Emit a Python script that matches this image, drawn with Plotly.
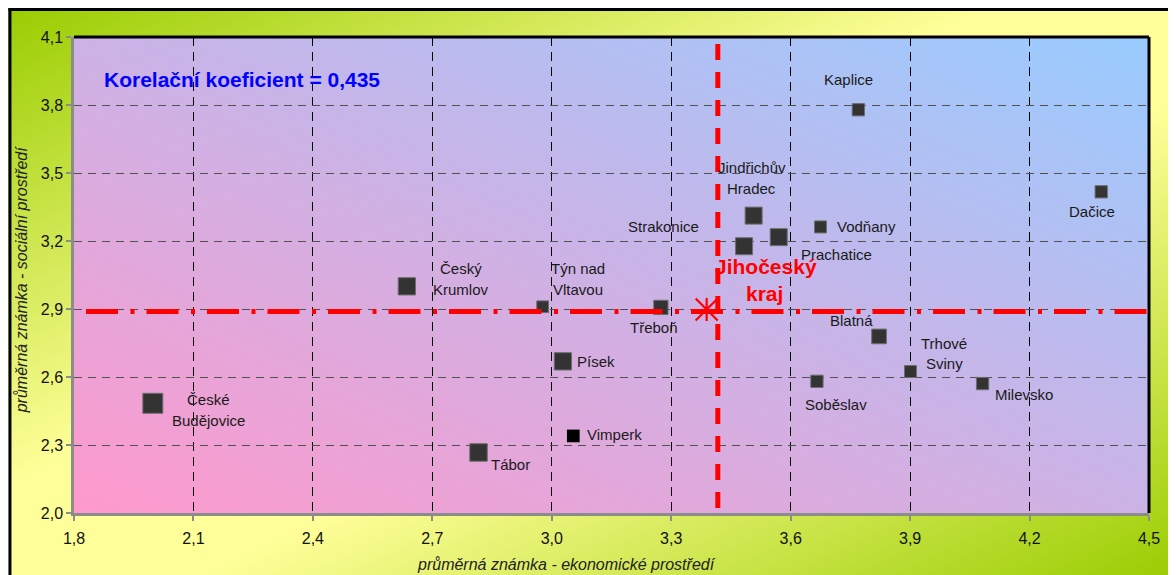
import base64
import plotly.graph_objects as go

# ---------------- data ----------------
towns = ["České Budějovice", "Tábor", "Vimperk", "Písek", "Český Krumlov",
         "Týn nad Vltavou", "Třeboň", "Jindřichův Hradec", "Strakonice",
         "Prachatice", "Vodňany", "Kaplice", "Dačice", "Blatná",
         "Trhové Sviny", "Soběslav", "Milevsko"]
label_lines = [["České", "Budějovice"], ["Tábor"], ["Vimperk"], ["Písek"],
               ["Český", "Krumlov"], ["Týn nad", "Vltavou"], ["Třeboň"],
               ["Jindřichův", "Hradec"], ["Strakonice"], ["Prachatice"],
               ["Vodňany"], ["Kaplice"], ["Dačice"], ["Blatná"],
               ["Trhové", "Sviny"], ["Soběslav"], ["Milevsko"]]
econ = [1.998, 2.816, 3.054, 3.028, 2.636, 2.977, 3.274, 3.507, 3.483,
        3.570, 3.675, 3.770, 4.380, 3.822, 3.901, 3.666, 4.082]
social = [2.484, 2.267, 2.340, 2.669, 3.000, 2.910, 2.907, 3.312, 3.177,
          3.217, 3.262, 3.779, 3.417, 2.779, 2.624, 2.581, 2.571]

kraj_lines = ["Jihočeský", "kraj"]
kraj_econ = 3.389
kraj_social = 2.898
avg_line_econ = 3.417
avg_line_social = 2.889

corr_text = "Korelační koeficient = 0,435"
x_title = "průměrná známka - ekonomické prostředí"
y_title = "průměrná známka - sociální prostředí"
x_ticks = [1.8, 2.1, 2.4, 2.7, 3.0, 3.3, 3.6, 3.9, 4.2, 4.5]
y_ticks = [2.0, 2.3, 2.6, 2.9, 3.2, 3.5, 3.8, 4.1]
x_ticktext = ["1,8", "2,1", "2,4", "2,7", "3,0", "3,3", "3,6", "3,9", "4,2", "4,5"]
y_ticktext = ["2,0", "2,3", "2,6", "2,9", "3,2", "3,5", "3,8", "4,1"]

# ---------------- styles ----------------
OFF = 8  # page body margin
W, H = 1168, 567
ML, MR, MT, MB = 65.5, 26.5, 29, 61.5
PW, PH = W - ML - MR, H - MT - MB
FONT = "Arial, 'Liberation Sans', sans-serif"

marker_sizes = [20, 17.5, 12.7, 17.3, 17.3, 11.7, 14.3, 17, 17, 17,
                12, 12.3, 12.3, 14.7, 12, 12.3, 12.3]
marker_fill = ["#333333"] * len(towns)
marker_line_w = [1] * len(towns)
marker_fill[2] = "#000000"
marker_line_w[2] = 0
# label offsets (px) of first line centre relative to marker, y down
label_offsets = [(55.5, -3.3), (31.7, 11.7), (41.7, -1.7), (33.2, 0.3),
                 (54, -17.7), (35, -38), (-6.5, 20.3), (-2, -47.7),
                 (-80.5, -19.4), (57.7, 17.3), (46, -0.2), (-9.7, -30),
                 (-9.5, 20), (-27.1, -16), (33.7, -28.3), (19.4, 23),
                 (41.1, 10.7)]
LINE_GAP = 20.5
kraj_offsets = [(59.3, -43), (58.3, -16)]


def px_to_paper_x(px):
    return (px - OFF - ML) / PW


def px_to_paper_y(py):
    return 1 - (py - OFF - MT) / PH


def gradient_uri(w, h, x1, y1, x2, y2, stops):
    st = "".join(f'<stop offset="{o}" stop-color="{c}"/>' for o, c in stops)
    svg = (f'<svg xmlns="http://www.w3.org/2000/svg" width="{w}" height="{h}" '
           f'viewBox="0 0 {w} {h}" preserveAspectRatio="none"><defs>'
           f'<linearGradient id="g" x1="{x1}" y1="{y1}" x2="{x2}" y2="{y2}">{st}'
           f'</linearGradient></defs><rect width="{w}" height="{h}" fill="url(#g)"/></svg>')
    return "data:image/svg+xml;base64," + base64.b64encode(svg.encode("utf-8")).decode()


outer_uri = gradient_uri(1176, 573, 0, 0, 1, 1,
                         [(0, "#99cc00"), (0.42, "#ffff99"), (0.58, "#ffff99"), (1, "#99cc00")])
plot_uri = gradient_uri(round(PW), round(PH), 0, 1, 1, 0, [(0, "#ff99cc"), (1, "#99ccff")])

fig = go.Figure()

fig.add_trace(go.Scatter(
    x=econ, y=social, mode="markers", text=towns, hoverinfo="text",
    marker=dict(symbol="square", size=marker_sizes, color=marker_fill, opacity=1,
                line=dict(color="#6e6e6e", width=marker_line_w)),
    cliponaxis=False,
))

# Jihočeský kraj star (vertical + X)
fig.add_trace(go.Scatter(x=[kraj_econ], y=[kraj_social], mode="markers", hoverinfo="skip",
                         marker=dict(symbol="x-thin-open", size=22, color="#ff0000", opacity=1,
                                     line=dict(color="#ff0000", width=2.2))))
fig.add_trace(go.Scatter(x=[kraj_econ], y=[kraj_social], mode="markers", hoverinfo="skip",
                         marker=dict(symbol="line-ns-open", size=16.5, color="#ff0000", opacity=1,
                                     line=dict(color="#ff0000", width=2.2))))

annotations = []
for i, lines in enumerate(label_lines):
    dx, dy = label_offsets[i]
    for k, ln in enumerate(lines):
        annotations.append(dict(
            x=econ[i], y=social[i], xref="x", yref="y", text=ln, showarrow=False,
            xshift=dx, yshift=-(dy + k * LINE_GAP), xanchor="center", yanchor="middle",
            font=dict(family=FONT, size=15, color="#1a1a1a")))

for k, ln in enumerate(kraj_lines):
    dx, dy = kraj_offsets[k]
    annotations.append(dict(
        x=kraj_econ, y=kraj_social, xref="x", yref="y", text=ln, showarrow=False,
        xshift=dx, yshift=-dy, xanchor="center", yanchor="middle",
        font=dict(family=FONT, size=21, color="#ff0000", weight="bold")))

annotations.append(dict(
    x=px_to_paper_x(102), y=px_to_paper_y(80), xref="paper", yref="paper",
    text=corr_text, showarrow=False, xanchor="left", yanchor="middle",
    font=dict(family=FONT, size=21, color="#0000ff", weight="bold")))

annotations.append(dict(
    x=px_to_paper_x(566), y=px_to_paper_y(565), xref="paper", yref="paper",
    text=x_title, showarrow=False, xanchor="center", yanchor="middle",
    font=dict(family=FONT, size=16, color="#222222", style="italic")))
annotations.append(dict(
    x=px_to_paper_x(21), y=px_to_paper_y(280), xref="paper", yref="paper",
    text=y_title, showarrow=False, xanchor="center", yanchor="middle", textangle=-90,
    font=dict(family=FONT, size=16, color="#222222", style="italic")))

shapes = [
    # average lines
    dict(type="line", xref="x", yref="y", x0=avg_line_econ, x1=avg_line_econ,
         y0=y_ticks[-1], y1=y_ticks[0],
         line=dict(color="#ff0000", width=5, dash="0px,7px,16px,5px")),
    dict(type="line", xref="x", yref="y", x0=x_ticks[0], x1=x_ticks[-1],
         y0=avg_line_social, y1=avg_line_social,
         line=dict(color="#ff0000", width=5, dash="0px,12px,32px,12.5px,4px,0px")),
    # plot border top/right
    dict(type="line", xref="paper", yref="paper", x0=0, x1=1, y0=1, y1=1,
         line=dict(color="#000000", width=3)),
    dict(type="line", xref="paper", yref="paper", x0=1, x1=1, y0=0, y1=1,
         line=dict(color="#000000", width=3)),
    # outer frame
    dict(type="line", xref="paper", yref="paper", x0=px_to_paper_x(9.4), x1=px_to_paper_x(9.4),
         y0=px_to_paper_y(8), y1=px_to_paper_y(600), line=dict(color="#000000", width=3)),
    dict(type="line", xref="paper", yref="paper", x0=px_to_paper_x(8), x1=px_to_paper_x(1200),
         y0=px_to_paper_y(9.4), y1=px_to_paper_y(9.4), line=dict(color="#000000", width=3)),
]

images = [
    dict(source=outer_uri, xref="paper", yref="paper", x=px_to_paper_x(4), y=px_to_paper_y(7),
         sizex=1176 / PW, sizey=573 / PH, sizing="stretch", xanchor="left", yanchor="top",
         layer="below"),
    dict(source=plot_uri, xref="paper", yref="paper", x=0, y=1, sizex=1, sizey=1,
         sizing="stretch", xanchor="left", yanchor="top", layer="below"),
]

axis_common = dict(
    showline=True, linecolor="#8c8c8c", linewidth=2.5, mirror=False,
    ticks="outside", ticklen=5, tickwidth=2, tickcolor="#8c8c8c",
    zeroline=False, showgrid=True, gridwidth=1, fixedrange=True,
    tickfont=dict(family=FONT, size=16, color="#111111"),
)

fig.update_layout(
    width=W, height=H, autosize=False,
    margin=dict(l=ML, r=MR, t=MT, b=MB, pad=0),
    paper_bgcolor="#ffffff", plot_bgcolor="rgba(0,0,0,0)",
    showlegend=False, hovermode="closest",
    font=dict(family=FONT),
    xaxis=dict(range=[x_ticks[0], x_ticks[-1]], tickvals=x_ticks, ticktext=x_ticktext,
               gridcolor="#000000", griddash="9px,6px", ticklabelstandoff=4, **axis_common),
    yaxis=dict(range=[y_ticks[0], y_ticks[-1]], tickvals=y_ticks, ticktext=y_ticktext,
               gridcolor="#505050", griddash="8px,6px", **axis_common),
    annotations=annotations, shapes=shapes, images=images,
)

fig.write_html("out.html")
